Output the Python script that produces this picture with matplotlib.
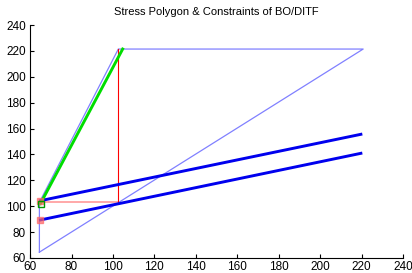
import matplotlib
matplotlib.use("Agg")
import matplotlib.pyplot as plt

# stress polygon outline
poly_x = [64.5, 64.5, 102.6, 220.8, 64.5]
poly_y = [64.5, 103, 221.5, 221.5, 64.5]

# frictional limit (green)
green_x = [65, 104.7]
green_y = [102, 221.5]

# constraint lines (thick blue)
upper_x = [65, 219.7]
upper_y = [104.3, 155.6]
lower_x = [65, 219.7]
lower_y = [89.4, 140.9]

# red guides
vert_x = [102.6, 102.6]
vert_y = [103, 221.5]
horiz_x = [64.5, 102.6]
horiz_y = [103, 103]

# markers
red_sq_x = [65, 65]
red_sq_y = [104.3, 89.4]
green_sq_x = [65.5]
green_sq_y = [102]

plt.rcParams["font.family"] = ["Liberation Sans", "DejaVu Sans"]

fig = plt.figure(figsize=(4.12, 2.73), dpi=100)
ax = fig.add_axes([0.073, 0.055, 0.905, 0.853])

ax.plot(poly_x, poly_y, color="#8080ff", linewidth=0.9)
ax.plot(horiz_x, horiz_y, color="#ff9999", linewidth=1.2)
ax.plot(vert_x, vert_y, color="red", linewidth=0.8)
ax.plot(upper_x, upper_y, color="#0000ee", linewidth=2.1)
ax.plot(lower_x, lower_y, color="#0000ee", linewidth=2.1)
ax.plot(green_x, green_y, color="#00dd00", linewidth=2.1)
ax.plot(red_sq_x, red_sq_y, "s", color="#ff6666", markersize=4, alpha=0.7)
ax.plot(green_sq_x, green_sq_y, "s", markerfacecolor="none",
        markeredgecolor="#009900", markersize=4)

ax.set_xlim(60, 240)
ax.set_ylim(60, 240)
ax.set_xticks(range(60, 241, 20))
ax.set_yticks(range(60, 241, 20))
ax.tick_params(direction="in", length=3, labelsize=8.5)
ax.tick_params(axis="x", pad=2.5)
ax.tick_params(axis="y", pad=3)
ax.spines["top"].set_visible(False)
ax.spines["right"].set_visible(False)
ax.set_title("Stress Polygon & Constraints of BO/DITF", fontsize=8, pad=7)

fig.savefig("out.png", dpi=100)
